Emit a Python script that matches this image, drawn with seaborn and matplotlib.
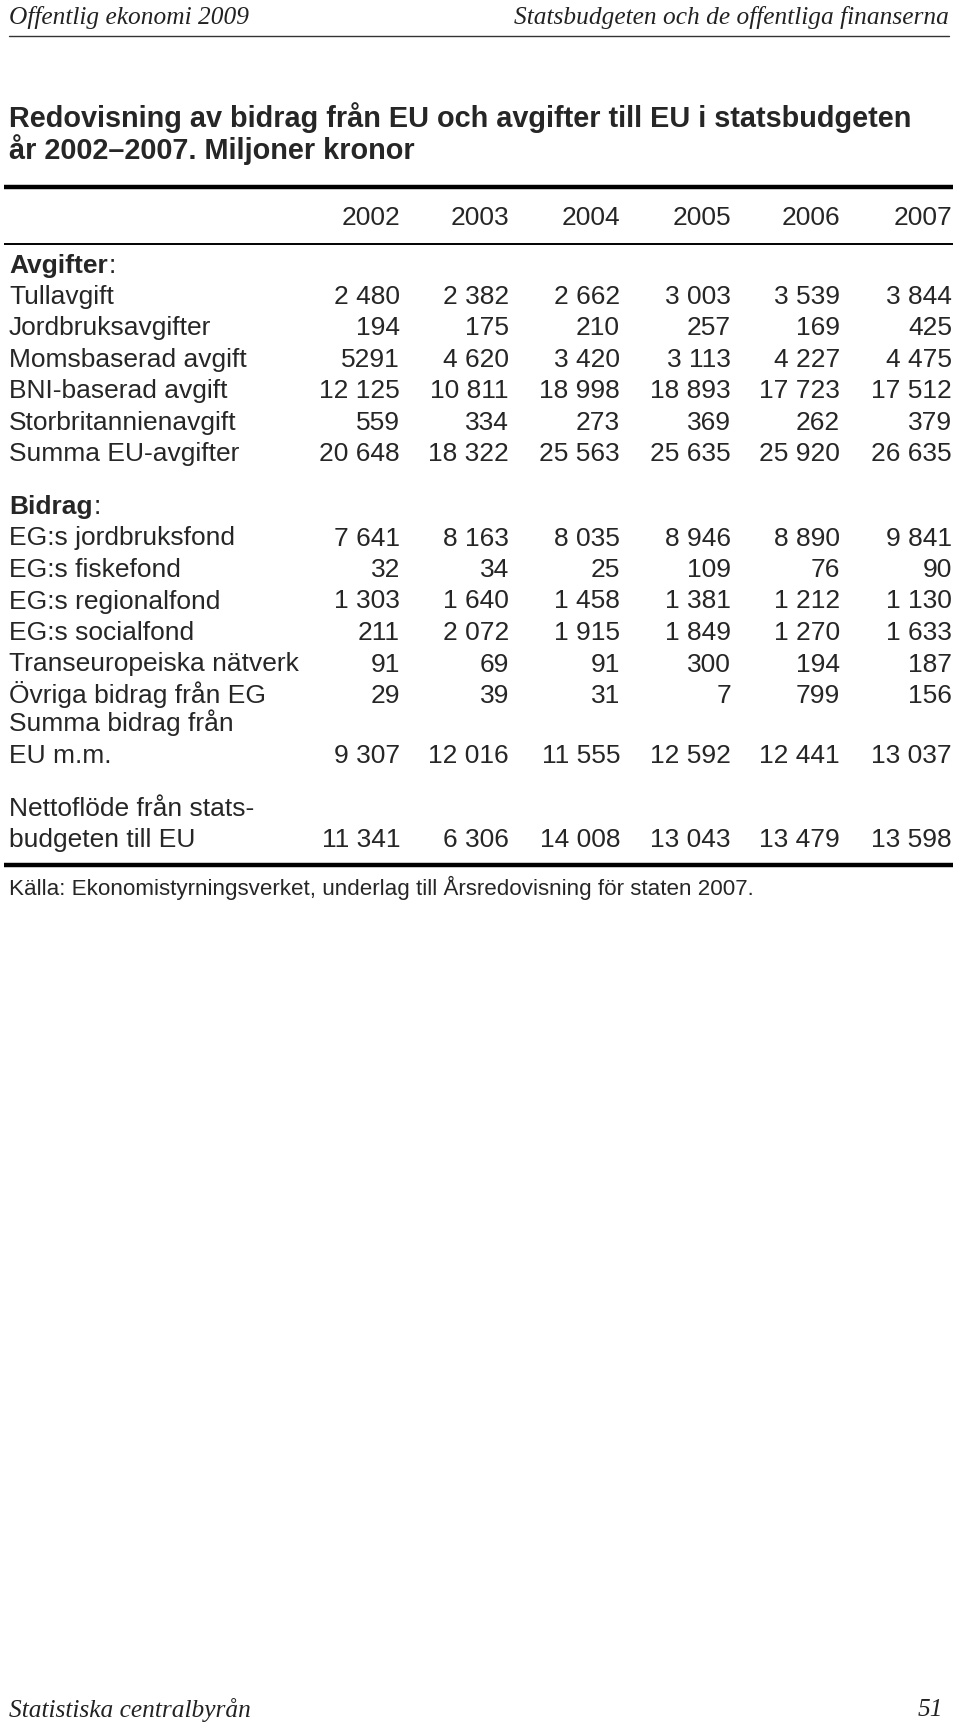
import numpy as np
import pandas as pd
import matplotlib
matplotlib.use("Agg")
import matplotlib.pyplot as plt
import seaborn as sns

## Datos de la tabla

years = [2002, 2003, 2004, 2005, 2006, 2007]

avgifter_labels = ["Tullavgift", "Jordbruksavgifter", "Momsbaserad avgift",
                   "BNI-baserad avgift", "Storbritannienavgift", "Summa EU-avgifter"]
tullavgift = [2480, 2382, 2662, 3003, 3539, 3844]
jordbruksavgifter = [194, 175, 210, 257, 169, 425]
momsbaserad = [5291, 4620, 3420, 3113, 4227, 4475]
bni_baserad = [12125, 10811, 18998, 18893, 17723, 17512]
storbritannien = [559, 334, 273, 369, 262, 379]
summa_avgifter = [20648, 18322, 25563, 25635, 25920, 26635]

bidrag_labels = ["EG:s jordbruksfond", "EG:s fiskefond", "EG:s regionalfond",
                 "EG:s socialfond", "Transeuropeiska nätverk", "Övriga bidrag från EG"]
jordbruksfond = [7641, 8163, 8035, 8946, 8890, 9841]
fiskefond = [32, 34, 25, 109, 76, 90]
regionalfond = [1303, 1640, 1458, 1381, 1212, 1130]
socialfond = [211, 2072, 1915, 1849, 1270, 1633]
transeuropeiska = [91, 69, 91, 300, 194, 187]
ovriga = [29, 39, 31, 7, 799, 156]
summa_bidrag = [9307, 12016, 11555, 12592, 12441, 13037]
nettoflode = [11341, 6306, 14008, 13043, 13479, 13598]

# celdas que el original imprime sin separador de miles
no_sep = [("Momsbaserad avgift", 2002)]

df_avg = pd.DataFrame([tullavgift, jordbruksavgifter, momsbaserad, bni_baserad,
                       storbritannien, summa_avgifter], index=avgifter_labels, columns=years)
df_bid = pd.DataFrame([jordbruksfond, fiskefond, regionalfond, socialfond,
                       transeuropeiska, ovriga], index=bidrag_labels, columns=years)


def fmt(v, label, year):
    if (label, year) in no_sep:
        return str(v)
    return f"{v:,}".replace(",", " ")


## Figura

sns.set_theme(style="white")
plt.rcParams['font.family'] = ['Liberation Sans', 'DejaVu Sans']

W, H = 960, 1727
fig = plt.figure(figsize=(W / 100, H / 100), dpi=100)
ax = fig.add_axes([0, 0, 1, 1])
ax.set_xlim(0, W)
ax.set_ylim(H, 0)
ax.axis('off')
sns.despine(ax=ax, left=True, bottom=True)

fs = 19        # tamaño tabla
fs_title = 20.8
lx = 9         # borde izquierdo
col_right = [400, 509, 620, 731, 840, 952]
base = 8       # desplazamiento centro -> linea base
serif = ['Liberation Serif', 'DejaVu Serif']
fs_page = 18.3

# cabecera de pagina
ax.text(lx, 17, "Offentlig ekonomi 2009", family=serif, style='italic', fontsize=fs_page,
        va='center', ha='left', color='#222222')
ax.text(949, 17, "Statsbudgeten och de offentliga finanserna", family=serif, style='italic',
        fontsize=fs_page, va='center', ha='right', color='#222222')
ax.plot([lx, 949], [36, 36], color='#333333', lw=1.0)

# titulo
ax.text(lx, 119 + base, "Redovisning av bidrag från EU och avgifter till EU i statsbudgeten",
        fontsize=fs_title, fontweight='bold', va='baseline')
ax.text(lx, 151 + base, "år 2002–2007. Miljoner kronor", fontsize=fs_title, fontweight='bold',
        va='baseline')

ax.plot([4, 953], [187, 187], color='black', lw=3.2, solid_capstyle='butt')
for x, yr in zip(col_right, years):
    ax.text(x, 217 + base, str(yr), fontsize=fs, ha='right', va='baseline')
ax.plot([4, 953], [244, 244], color='black', lw=1.4, solid_capstyle='butt')

renderer = fig.canvas.get_renderer()


def bold_head(y, word):
    t = ax.text(lx, y + base, word, fontsize=fs, fontweight='bold', va='baseline')
    bb = t.get_window_extent(renderer=renderer)
    ax.text(bb.x1 + 1, y + base, ":", fontsize=fs, va='baseline')


def row(y, label, values):
    if label is not None:
        ax.text(lx, y + base, label, fontsize=fs, va='baseline')
    if values is not None:
        for x, yr, v in zip(col_right, years, values):
            ax.text(x, y + base, fmt(v, label, yr), fontsize=fs, ha='right', va='baseline')


step = 31.5
bold_head(265, "Avgifter")
for i, lab in enumerate(df_avg.index):
    row(264 + step * (i + 1), lab, df_avg.loc[lab].tolist())

bold_head(506, "Bidrag")
for i, lab in enumerate(df_bid.index):
    row(506 + step * (i + 1), lab, df_bid.loc[lab].tolist())

row(723, "Summa bidrag från", None)
row(755, "EU m.m.", summa_bidrag)
row(808, "Nettoflöde från stats-", None)
row(839, "budgeten till EU", nettoflode)

ax.plot([4, 953], [865, 865], color='black', lw=3.2, solid_capstyle='butt')
ax.text(lx, 888, "Källa: Ekonomistyrningsverket, underlag till Årsredovisning för staten 2007.",
        fontsize=16.1, va='center')

# pie de pagina
ax.text(lx, 1710, "Statistiska centralbyrån", family=serif, style='italic', fontsize=fs_page,
        va='center', ha='left', color='#222222')
ax.text(943, 1710, "51", family=serif, style='italic', fontsize=fs_page, va='center', ha='right',
        color='#222222')

fig.savefig("out.png", dpi=100, facecolor='white')
